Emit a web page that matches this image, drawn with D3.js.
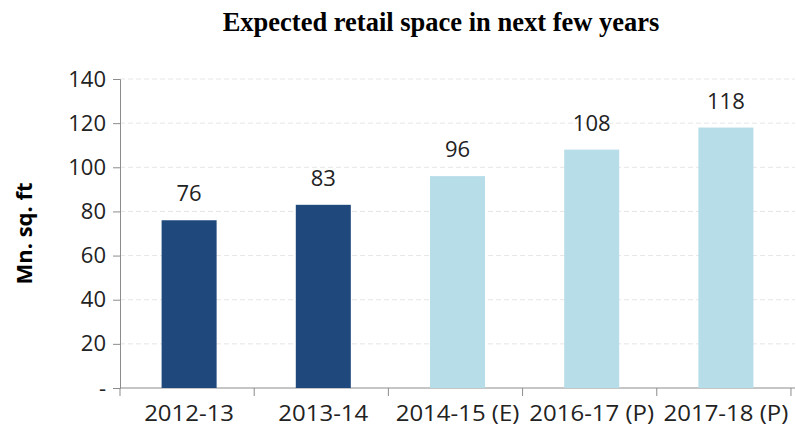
<!DOCTYPE html>
<html>
<head>
<meta charset="utf-8">
<script src="https://cdn.jsdelivr.net/npm/d3@7"></script>
<style>
  body { margin: 0; background: #fff; }
  .tick text { font-family: "Open Sans", sans-serif; }
</style>
</head>
<body>
<div id="chart"></div>
<script>
// chart data
var categories = ["2012-13", "2013-14", "2014-15 (E)", "2016-17 (P)", "2017-18 (P)"];
var values = [76, 83, 96, 108, 118];
var isEstimate = [false, false, true, true, true];
var yTicks = [0, 20, 40, 60, 80, 100, 120, 140];

var svgWidth = 796;
var svgHeight = 434;

var margin = { top: 79, right: 1, bottom: 46, left: 120 };
var width = svgWidth - margin.left - margin.right;
var height = svgHeight - margin.top - margin.bottom;

var svg = d3.select("#chart")
  .append("svg")
  .attr("width", svgWidth)
  .attr("height", svgHeight);

var chartGroup = svg.append("g")
  .attr("transform", `translate(${margin.left}, ${margin.top})`);

// scales
var xScale = d3.scaleBand()
  .domain(categories)
  .range([0, width])
  .paddingInner(0.59)
  .paddingOuter(0.31);

var yScale = d3.scaleLinear()
  .domain([0, 140])
  .range([height, 0]);

// dashed gridlines
chartGroup.selectAll(".grid")
  .data(yTicks.slice(1))
  .enter()
  .append("line")
  .attr("x1", 0)
  .attr("x2", width)
  .attr("y1", d => yScale(d))
  .attr("y2", d => yScale(d))
  .attr("stroke", "#e6e6e6")
  .attr("stroke-dasharray", "5,3");

// axes
var leftAxis = d3.axisLeft(yScale)
  .tickValues(yTicks)
  .tickSize(7)
  .tickPadding(7)
  .tickFormat(d => d === 0 ? "-" : d);

var yAxis = chartGroup.append("g").call(leftAxis);
yAxis.select(".domain").attr("stroke", "#8c8c8c");
yAxis.selectAll(".tick line").attr("stroke", "#8c8c8c");
yAxis.selectAll(".tick text")
  .attr("font-size", "22px")
  .attr("fill", "#222");

// x axis ticks between categories
var step = xScale.step();
var xAxis = chartGroup.append("g")
  .attr("transform", `translate(0, ${height})`);
xAxis.append("line")
  .attr("x1", 0).attr("x2", width)
  .attr("stroke", "#8c8c8c");
xAxis.selectAll(".xtick")
  .data(d3.range(categories.length + 1))
  .enter()
  .append("line")
  .attr("x1", i => Math.min(i * step, width - 0.5))
  .attr("x2", i => Math.min(i * step, width - 0.5))
  .attr("y1", 0)
  .attr("y2", 8)
  .attr("stroke", "#8c8c8c");
xAxis.selectAll(".xlabel")
  .data(categories)
  .enter()
  .append("text")
  .attr("transform", d => `translate(${xScale(d) + xScale.bandwidth() / 2}, 33) scale(1.09, 1)`)
  .attr("text-anchor", "middle")
  .attr("font-family", "Open Sans, sans-serif")
  .attr("font-size", "22px")
  .attr("fill", "#222")
  .text(d => d);

// bars
chartGroup.selectAll("rect")
  .data(values)
  .enter()
  .append("rect")
  .attr("x", (d, i) => xScale(categories[i]))
  .attr("y", d => yScale(d))
  .attr("width", xScale.bandwidth())
  .attr("height", d => height - yScale(d))
  .attr("fill", (d, i) => isEstimate[i] ? "#b7dde8" : "#1f497d");

// value labels
chartGroup.selectAll(".val")
  .data(values)
  .enter()
  .append("text")
  .attr("x", (d, i) => xScale(categories[i]) + xScale.bandwidth() / 2)
  .attr("y", d => yScale(d) - 19)
  .attr("text-anchor", "middle")
  .attr("font-family", "Open Sans, sans-serif")
  .attr("font-size", "22px")
  .attr("fill", "#222")
  .text(d => d);

// title
svg.append("text")
  .attr("x", 441)
  .attr("y", 31)
  .attr("text-anchor", "middle")
  .attr("font-family", "Liberation Serif, serif")
  .attr("font-weight", "bold")
  .attr("font-size", "26.5px")
  .attr("fill", "#000")
  .text("Expected retail space in next few years");

// y axis label
svg.append("text")
  .attr("transform", `translate(32, ${margin.top + height / 2}) rotate(-90)`)
  .attr("text-anchor", "middle")
  .attr("font-family", "Open Sans, sans-serif")
  .attr("font-weight", "bold")
  .attr("font-size", "22px")
  .attr("fill", "#000")
  .text("Mn. sq. ft");
</script>
</body>
</html>
